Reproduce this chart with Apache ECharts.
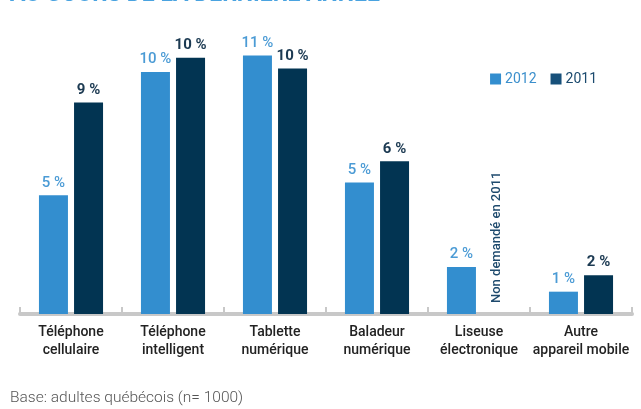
<!DOCTYPE html>
<html>
<head>
<meta charset="utf-8">
<script src="https://cdn.jsdelivr.net/npm/echarts@6/dist/echarts.min.js"></script>
<style>html,body{margin:0;padding:0;background:#fff}#c{width:641px;height:409px}</style>
</head>
<body>
<div id="c"></div>
<script>
const categories = ['Téléphone\ncellulaire', 'Téléphone\nintelligent', 'Tablette\nnumérique', 'Baladeur\nnumérique', 'Liseuse\nélectronique', 'Autre\nappareil mobile'];
const values2012 = [5.05, 10.3, 11.0, 5.6, 2.0, 0.95];
const values2011 = [9.0, 10.9, 10.45, 6.5, 0, 1.65];
const labels2012 = ['5 %', '10 %', '11 %', '5 %', '2 %', '1 %'];
const labels2011 = ['9 %', '10 %', '10 %', '6 %', 'Non demandé en 2011', '2 %'];
const notAsked2011 = [false, false, false, false, true, false];
const titleText = 'AU COURS DE LA DERNIÈRE ANNÉE';
const noteText = 'Base: adultes québécois (n= 1000)';

const C12 = '#338ecf', C11 = '#023452';
const chart = echarts.init(document.getElementById('c'));

const data2011 = values2011.map((v, i) => notAsked2011[i] ? {
  value: v,
  label: {
    show: true, position: 'top', distance: 11, rotate: 90, align: 'left', verticalAlign: 'middle',
    fontSize: 13, fontWeight: 500, color: '#1e4a6d', fontFamily: 'Roboto'
  }
} : v);

chart.setOption({
  animation: false,
  grid: { left: 20, right: 9, top: 32, bottom: 95, containLabel: false },
  legend: {
    right: 39, top: 67, itemWidth: 11, itemHeight: 11, itemGap: 14,
    textStyle: { fontSize: 14, fontFamily: 'Roboto', padding: [0, 0, 0, -1] },
    data: [
      { name: '2012', icon: 'rect', itemStyle: { color: C12 }, textStyle: { color: '#3b8fcc' } },
      { name: '2011', icon: 'rect', itemStyle: { color: '#17507a' }, textStyle: { color: '#1b4a6e' } }
    ]
  },
  xAxis: {
    type: 'category', data: categories,
    axisLine: { lineStyle: { color: '#c8c8c8', width: 4 } },
    axisTick: { show: true, inside: true, length: 7, lineStyle: { color: '#c8c8c8', width: 2 } },
    axisLabel: { color: '#222', fontSize: 14, fontWeight: 500, fontFamily: 'Roboto', lineHeight: 18, margin: 9, interval: 0 }
  },
  yAxis: { type: 'value', min: 0, max: 12, show: false, splitLine: { show: false } },
  series: [
    {
      name: '2012', type: 'bar', data: values2012, barWidth: 29, barGap: '21%',
      itemStyle: { color: C12 },
      label: { show: true, position: 'top', distance: 5, fontSize: 15, fontFamily: 'Roboto', fontWeight: 500, color: '#4b9bd5',
        formatter: p => labels2012[p.dataIndex] }
    },
    {
      name: '2011', type: 'bar', data: data2011, barWidth: 29,
      itemStyle: { color: C11 },
      label: { show: true, position: 'top', distance: 5, fontSize: 15, fontFamily: 'Roboto', fontWeight: 'bold', color: '#1c3a52',
        formatter: p => labels2011[p.dataIndex] }
    }
  ],
  graphic: [
    { type: 'text', left: 10, top: -16, style: { text: titleText, fontSize: 23, fontWeight: 'bold', fontFamily: 'Roboto', fill: '#4aa3e0' } },
    { type: 'text', left: 10, top: 390, style: { text: noteText, fontSize: 15.5, fontWeight: 300, fontFamily: 'Roboto', fill: '#555' } }
  ]
});
</script>
</body>
</html>
